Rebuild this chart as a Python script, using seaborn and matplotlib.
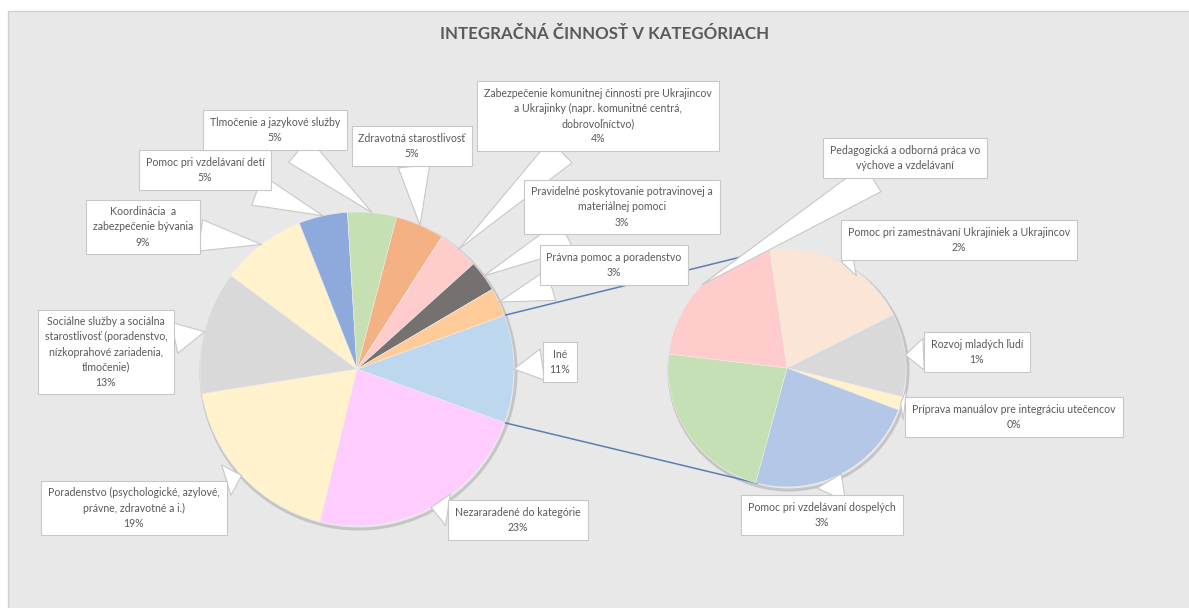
import numpy as np
import matplotlib
matplotlib.use("Agg")
import matplotlib.pyplot as plt
import seaborn as sns
from matplotlib.patches import Rectangle, Circle

# main pie, clockwise starting with the aggregated "Iné" slice
main_labels = [
    "Iné",
    "Nezararadené do kategórie",
    "Poradenstvo (psychologické, azylové,\nprávne, zdravotné a i.)",
    "Sociálne služby a sociálna\nstarostlivosť (poradenstvo,\nnízkoprahové zariadenia,\ntlmočenie)",
    "Koordinácia  a\nzabezpečenie bývania",
    "Pomoc pri vzdelávaní detí",
    "Tlmočenie a jazykové služby",
    "Zdravotná starostlivosť",
    "Zabezpečenie komunitnej činnosti pre Ukrajincov\na Ukrajinky (napr. komunitné centrá,\ndobrovoľníctvo)",
    "Pravidelné poskytovanie potravinovej a\nmateriálnej pomoci",
    "Právna pomoc a poradenstvo",
]
main_values = [None, 23.1, 18.6, 12.6, 8.8, 5.0, 5.0, 5.0, 4.2, 3.2, 2.9]

# secondary pie (breakdown of "Iné"), clockwise
sec_labels = [
    "Pomoc pri zamestnávaní Ukrajiniek a Ukrajincov",
    "Rozvoj mladých ľudí",
    "Príprava manuálov pre integráciu utečencov",
    "Pomoc pri vzdelávaní dospelých",
    "",
    "Pedagogická a odborná práca vo\nvýchove a vzdelávaní",
]
sec_values = [2.2, 1.25, 0.2, 2.6, 2.5, 2.3]
sec_show_pct = [True, True, True, True, False, False]

main_values[0] = sum(sec_values)
total = sum(main_values)

main_colors = ["#BDD7EE", "#FFCCFF", "#FFF2CC", "#D9D9D9", "#FFF2CC", "#8EA9DB",
               "#C6E0B4", "#F4B183", "#FFCCCC", "#767171", "#FFCC99"]
sec_colors = ["#FBE5D6", "#D9D9D9", "#FFF2CC", "#B4C7E7", "#C5E0B4", "#FFCCCC"]

# label box centres in pixel coordinates (x right, y down)
main_box = [(560, 362), (518, 520), (134, 508), (106, 352), (143, 227), (205, 170),
            (275, 130), (412, 146), (598, 116), (622, 207), (614, 265)]
sec_box = [(959, 240), (977, 352), (1014, 417), (822, 515), None, (905, 158)]

W, H = 1189, 608
main_c, main_r = (357, H - 369), 157
sec_c, sec_r = (787, H - 368), 119

sns.set_theme(style="white")
plt.rcParams["font.family"] = ["Lato", "DejaVu Sans"]
text_col = "#595959"

fig = plt.figure(figsize=(W / 100, H / 100), dpi=100, facecolor="white")
ax = fig.add_axes([0, 0, 1, 1])
ax.set_facecolor("white")

ax.add_patch(Rectangle((8, -2), W, H - 11 + 2, fc="#E8E8E8", ec="#D0D0D0", lw=1, zorder=0))

# soft shadow rings
for c, r in [(main_c, main_r), (sec_c, sec_r)]:
    ax.add_patch(Circle((c[0] + 1.5, c[1] - 2.5), r + 0.5, fc="none", ec="#BDBDBD", lw=2.2,
                        alpha=0.8, zorder=1))

start = 180 * main_values[0] / total
wp = dict(edgecolor="#EDEDED", linewidth=0.4, zorder=2)
w_main, _ = ax.pie(main_values, colors=main_colors, startangle=start, counterclock=False,
                   center=main_c, radius=main_r, wedgeprops=wp, frame=True)
w_sec, _ = ax.pie(sec_values, colors=sec_colors, startangle=98.3, counterclock=False,
                  center=sec_c, radius=sec_r, wedgeprops=wp, frame=True)

# connector lines from the "Iné" slice to the secondary pie
ine = w_main[0]
for a_main, a_sec in [(ine.theta2, 107), (ine.theta1, -104)]:
    p0 = (main_c[0] + main_r * np.cos(np.radians(a_main)), main_c[1] + main_r * np.sin(np.radians(a_main)))
    p1 = (sec_c[0] + sec_r * np.cos(np.radians(a_sec)), sec_c[1] + sec_r * np.sin(np.radians(a_sec)))
    ax.plot([p0[0], p1[0]], [p0[1], p1[1]], color="#5B7DB5", lw=1.1, zorder=1.5)


def callout(wedge, text, box):
    mid = np.radians((wedge.theta1 + wedge.theta2) / 2)
    cx, cy = wedge.center
    tip = (cx + wedge.r * np.cos(mid), cy + wedge.r * np.sin(mid))
    ax.annotate(text, xy=tip, xytext=(box[0], H - box[1]), ha="center", va="center",
                fontsize=7.6, color=text_col, linespacing=1.45, zorder=5,
                bbox=dict(boxstyle="square,pad=0.65", fc="white", ec="#C8C8C8", lw=0.8),
                arrowprops=dict(arrowstyle="wedge,tail_width=3.0,shrink_factor=0.5",
                                fc="white", ec="#C8C8C8", lw=0.8, shrinkA=0, shrinkB=0))


for w, lab, v, box in zip(w_main, main_labels, main_values, main_box):
    callout(w, f"{lab}\n{round(100 * v / total):.0f}%", box)

for w, lab, v, show, box in zip(w_sec, sec_labels, sec_values, sec_show_pct, sec_box):
    if box is None:
        continue
    txt = f"{lab}\n{round(100 * v / total):.0f}%" if show else lab
    callout(w, txt, box)

ax.set_xlim(0, W)
ax.set_ylim(0, H)
ax.set_aspect("equal")
ax.axis("off")

fig.text(605 / W, 1 - 34 / H, "INTEGRAČNÁ ČINNOSŤ V KATEGÓRIACH", ha="center", va="center",
         fontsize=12.2, fontweight="bold", color=text_col)

fig.savefig("out.png", dpi=100, facecolor="white")
